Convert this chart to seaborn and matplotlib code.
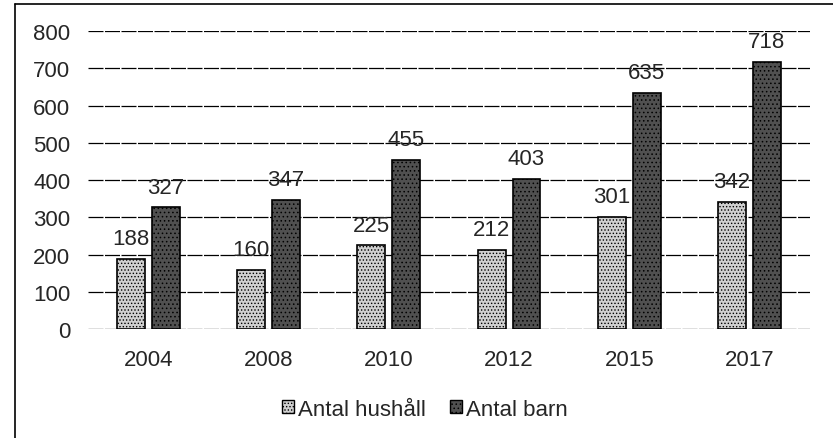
import pandas as pd
import numpy as np
import seaborn as sns
import matplotlib.pyplot as plt
from matplotlib.patches import Patch
from matplotlib.lines import Line2D

years = ['2004', '2008', '2010', '2012', '2015', '2017']
hushall = [188, 160, 225, 212, 301, 342]
barn = [327, 347, 455, 403, 635, 718]
series = ['Antal hushåll', 'Antal barn']
colors = ['#d0d0d0', '#505050']

df = pd.DataFrame({
    'year': years * 2,
    'value': hushall + barn,
    'serie': [series[0]] * len(years) + [series[1]] * len(years),
})

sns.set_style('white')
plt.rcParams['font.family'] = ['Liberation Sans', 'DejaVu Sans']
plt.rcParams['hatch.linewidth'] = 0.6

fig = plt.figure(figsize=(8.33, 4.39), dpi=100)
ax = fig.add_axes([0.106, 0.248, 0.866, 0.679])

sns.barplot(data=df, x='year', y='value', hue='serie', palette=colors,
            width=0.58, gap=0.2, edgecolor='black', linewidth=1.2,
            legend=False, ax=ax, zorder=3)

hatches = ['.....', '....']
for cont, h in zip(ax.containers, hatches):
    for p in cont:
        p.set_hatch(h)
    ax.bar_label(cont, fontsize=16, padding=7)

ax.set_ylim(0, 800)
ax.set_yticks(range(0, 801, 100))
ax.set_xlim(-0.5, 5.5)
ax.yaxis.grid(True, color='black', linewidth=0.9, linestyle=(0, (12, 1.2)), zorder=0)
ax.set_axisbelow(True)
for s in ax.spines.values():
    s.set_visible(False)
ax.tick_params(axis='y', length=0, pad=13, labelsize=16)
ax.tick_params(axis='x', length=0, pad=14, labelsize=16)
ax.set_xlabel('')
ax.set_ylabel('')

handles = [Patch(facecolor=c, edgecolor='black', hatch=h, linewidth=1.0)
           for c, h in zip(colors, hatches)]
fig.legend(handles, series, loc='center', bbox_to_anchor=(0.51, 0.066), ncol=2,
           frameon=False, fontsize=16, handlelength=0.55, handleheight=0.55,
           handletextpad=0.15, columnspacing=1.1)

# outer chart frame from the scan
fig.add_artist(Line2D([15 / 833, 1], [1 - 5 / 439, 1 - 5 / 439], color='black', lw=1.2))
fig.add_artist(Line2D([15 / 833, 15 / 833], [0, 1 - 5 / 439], color='black', lw=1.2))

fig.savefig('out.png', dpi=100)
